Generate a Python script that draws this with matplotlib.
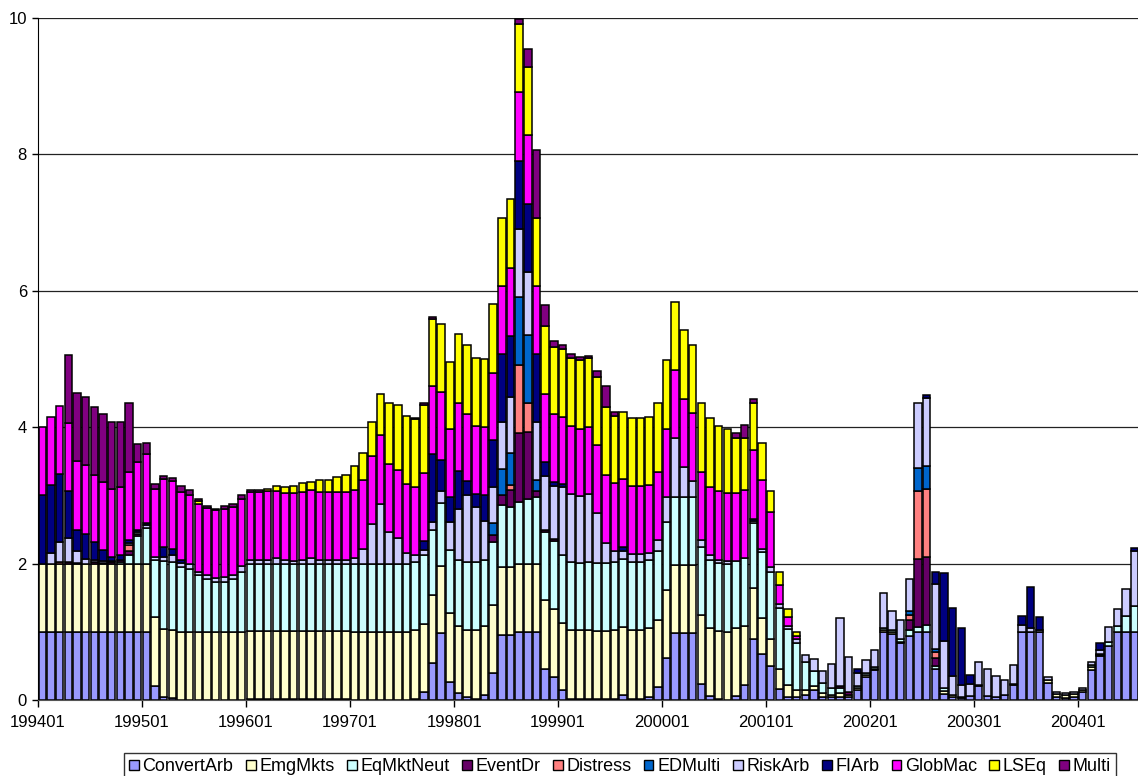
import numpy as np
import matplotlib
matplotlib.use("Agg")
import matplotlib.pyplot as plt
from matplotlib.patches import Patch

plt.rcParams["font.family"] = ["Liberation Sans", "DejaVu Sans"]

# monthly categories 199401 ... (axis runs a few months past the crop)
months = [f"{1994 + k // 12}{k % 12 + 1:02d}" for k in range(134)]

series_names = ["ConvertArb", "EmgMkts", "EqMktNeut", "EventDr", "Distress",
                "EDMulti", "RiskArb", "FIArb", "GlobMac", "LSEq", "Multi"]
series_colors = ["#9999FF", "#FFFFCC", "#CCFFFF", "#660066", "#FF8080",
                 "#0066CC", "#CCCCFF", "#000080", "#FF00FF", "#FFFF00", "#800080"]

# one row per year (12 months)
convert_arb = [
    1.0, 1.0, 1.0, 1.0, 1.0, 0.99, 1.0, 1.0, 1.0, 1.0, 1.0, 1.0,
    1.0, 0.21, 0.04, 0.03, 0, 0, 0, 0, 0, 0, 0, 0,
    0.01, 0.01, 0.01, 0.01, 0.01, 0.01, 0.01, 0.01, 0.01, 0.01, 0.01, 0.01,
    0, 0, 0, 0, 0, 0, 0, 0.02, 0.12, 0.54, 0.98, 0.27,
    0.1, 0.05, 0.02, 0.08, 0.39, 0.95, 0.95, 0.99, 0.99, 0.99, 0.46, 0.34,
    0.15, 0.02, 0.02, 0.02, 0.01, 0.01, 0.02, 0.07, 0.02, 0.02, 0.05, 0.19,
    0.61, 0.98, 0.98, 0.98, 0.24, 0.06, 0.01, 0, 0.06, 0.22, 0.89, 0.68,
    0.5, 0.16, 0.05, 0.04, 0.07, 0.15, 0.05, 0.04, 0.05, 0.05, 0.15, 0.34,
    0.44, 1.0, 0.97, 0.83, 0.94, 0.99, 0.99, 0.45, 0.09, 0.05, 0.03, 0.06,
    0.2, 0.06, 0.05, 0.07, 0.22, 0.99, 0.99, 0.99, 0.25, 0.05, 0.03, 0.05,
    0.11, 0.44, 0.64, 0.79, 0.99, 0.99, 0.99, 0.99,
]
emg_mkts = [
    1.0, 1.0, 1.0, 1.0, 1.0, 1.0, 1.0, 1.0, 1.0, 1.0, 1.0, 1.0,
    1.0, 1.0, 1.0, 1.0, 1.0, 1.0, 1.0, 1.0, 1.0, 1.0, 1.0, 1.0,
    1.0, 1.0, 1.0, 1.0, 1.0, 1.0, 1.0, 1.0, 1.0, 1.0, 1.0, 1.0,
    1.0, 1.0, 1.0, 1.0, 1.0, 1.0, 1.0, 1.0, 1.0, 1.0, 0.98, 1.0,
    0.99, 0.97, 1.0, 1.0, 1.0, 1.0, 1.0, 1.0, 1.0, 1.0, 1.0, 1.0,
    0.98, 1.0, 1.0, 1.0, 1.0, 1.0, 1.0, 1.0, 1.0, 1.0, 1.0, 0.99,
    1.0, 1.0, 1.0, 1.0, 1.0, 1.0, 1.0, 1.0, 0.99, 0.86, 0.75, 0.52,
    0.4, 0.3, 0.17, 0.11, 0.08, 0.06, 0.05, 0.04, 0.05, 0.03, 0.03, 0.03,
    0.02, 0.03, 0.02, 0.02, 0, 0, 0, 0, 0.04, 0.02, 0.02, 0,
    0.02, 0, 0, 0, 0.02, 0.01, 0.01, 0.01, 0.04, 0.04, 0.04, 0.04,
    0.04, 0.04, 0.02, 0, 0, 0, 0, 0,
]
eq_mkt_neut = [
    0, 0, 0, 0, 0.01, 0, 0, 0, 0, 0.03, 0.13, 0.4,
    0.52, 0.84, 1.0, 1.0, 0.95, 0.92, 0.83, 0.78, 0.73, 0.73, 0.78, 0.88,
    0.99, 0.99, 0.99, 0.99, 0.99, 0.99, 0.99, 0.99, 0.99, 0.99, 0.99, 0.99,
    1.0, 1.0, 1.0, 1.0, 1.0, 1.0, 1.0, 1.0, 1.0, 0.96, 0.93, 0.93,
    0.96, 1.0, 1.0, 0.97, 0.93, 0.91, 0.88, 0.92, 0.96, 0.99, 1.0, 0.99,
    1.0, 1.0, 0.99, 1.0, 1.0, 1.0, 1.0, 1.0, 1.0, 1.0, 1.0, 1.0,
    1.0, 1.0, 1.0, 1.0, 1.0, 1.0, 1.0, 1.0, 0.99, 1.0, 0.95, 0.97,
    0.98, 0.89, 0.82, 0.68, 0.41, 0.22, 0.15, 0.09, 0.07, 0, 0.02, 0.02,
    0.02, 0.02, 0.04, 0.05, 0.08, 0.08, 0.11, 0.05, 0.04, 0, 0, 0,
    0, 0, 0, 0, 0, 0, 0, 0, 0, 0, 0, 0,
    0, 0.03, 0.02, 0.06, 0.1, 0.24, 0.39, 0.4,
]
event_dr = [
    0, 0, 0, 0.02, 0, 0, 0.02, 0.01, 0.02, 0.02, 0.05, 0.03,
    0, 0, 0, 0, 0, 0, 0, 0, 0, 0, 0, 0,
    0, 0, 0, 0, 0, 0, 0, 0, 0, 0, 0, 0,
    0, 0, 0, 0, 0, 0, 0, 0, 0, 0, 0, 0,
    0, 0, 0, 0, 0.1, 0.14, 0.25, 1.0, 0.98, 0.08, 0.03, 0.03,
    0, 0, 0, 0, 0, 0, 0, 0, 0, 0, 0, 0,
    0, 0, 0, 0, 0, 0, 0, 0, 0, 0, 0, 0,
    0, 0, 0, 0, 0, 0, 0, 0, 0.03, 0.03, 0, 0,
    0, 0, 0, 0, 0.15, 1.0, 1.0, 0.12, 0, 0, 0, 0,
    0, 0, 0, 0, 0, 0, 0, 0, 0, 0, 0, 0,
    0, 0, 0, 0, 0, 0, 0, 0,
]
distress = [
    0, 0, 0.03, 0, 0, 0, 0, 0, 0, 0, 0.1, 0.01,
    0, 0, 0, 0, 0, 0, 0, 0, 0, 0, 0, 0,
    0, 0, 0, 0, 0, 0, 0, 0, 0, 0, 0, 0,
    0, 0, 0, 0, 0, 0, 0, 0, 0, 0, 0, 0,
    0, 0, 0, 0, 0, 0, 0.07, 1.0, 0.42, 0, 0, 0,
    0, 0, 0, 0, 0, 0, 0, 0, 0, 0, 0, 0,
    0, 0, 0, 0, 0, 0, 0, 0, 0, 0, 0, 0,
    0, 0, 0, 0, 0, 0, 0, 0, 0, 0, 0, 0,
    0, 0, 0, 0, 0.08, 1.0, 1.0, 0.08, 0, 0, 0, 0,
    0, 0, 0, 0, 0, 0, 0, 0, 0, 0, 0, 0,
    0, 0, 0, 0, 0, 0, 0, 0,
]
ed_multi = [
    0, 0, 0, 0, 0, 0, 0, 0, 0, 0, 0, 0,
    0, 0, 0, 0, 0, 0, 0, 0, 0, 0, 0, 0,
    0, 0, 0, 0, 0, 0, 0, 0, 0, 0, 0, 0,
    0, 0, 0, 0, 0, 0, 0, 0, 0, 0, 0, 0,
    0, 0, 0, 0, 0.17, 0.38, 0.47, 1.0, 1.0, 0.17, 0, 0,
    0, 0, 0, 0, 0, 0, 0, 0, 0, 0, 0, 0,
    0, 0, 0, 0, 0, 0, 0, 0, 0, 0, 0, 0,
    0, 0, 0, 0, 0, 0, 0, 0, 0, 0, 0, 0,
    0, 0, 0, 0, 0.05, 0.33, 0.33, 0.05, 0, 0, 0, 0,
    0, 0, 0, 0, 0, 0, 0, 0, 0, 0, 0, 0,
    0, 0, 0, 0, 0, 0, 0, 0,
]
risk_arb = [
    0, 0.15, 0.28, 0.36, 0.17, 0.08, 0.04, 0.03, 0.02, 0, 0.02, 0.02,
    0.04, 0.05, 0.06, 0.1, 0.06, 0.08, 0.05, 0.05, 0.06, 0.07, 0.05, 0.08,
    0.05, 0.05, 0.05, 0.08, 0.05, 0.04, 0.05, 0.08, 0.05, 0.05, 0.05, 0.05,
    0.08, 0.22, 0.58, 0.88, 0.46, 0.37, 0.16, 0.1, 0.08, 0.11, 0.17, 0.41,
    0.75, 0.98, 0.81, 0.57, 0.54, 0.7, 0.82, 1.0, 0.93, 0.84, 0.79, 0.78,
    1.0, 1.0, 0.98, 1.0, 0.73, 0.29, 0.17, 0.12, 0.12, 0.12, 0.1, 0.17,
    0.37, 0.86, 0.44, 0.23, 0.11, 0.07, 0.05, 0.04, 0, 0, 0.03, 0.05,
    0.07, 0.06, 0.04, 0.06, 0.1, 0.17, 0.17, 0.36, 1.0, 0.52, 0.19, 0.19,
    0.25, 0.52, 0.28, 0.28, 0.47, 0.96, 1.0, 0.95, 0.69, 0.28, 0.17, 0.18,
    0.33, 0.39, 0.3, 0.22, 0.28, 0.1, 0.05, 0.03, 0.04, 0.03, 0.03, 0.03,
    0.03, 0.04, 0.06, 0.22, 0.24, 0.4, 0.8, 0.93,
]
fi_arb = [
    1.0, 1.0, 1.0, 0.68, 0.32, 0.37, 0.26, 0.16, 0.06, 0.07, 0.05, 0.03,
    0.04, 0, 0.14, 0.08, 0.04, 0, 0, 0, 0, 0, 0, 0,
    0, 0, 0.01, 0, 0, 0, 0, 0, 0, 0, 0, 0,
    0, 0, 0, 0, 0, 0, 0, 0, 0.13, 1.0, 0.46, 0.36,
    0.56, 0.21, 0.19, 0.38, 0.68, 0.99, 0.9, 1.0, 1.0, 1.0, 0.21, 0.05,
    0.04, 0, 0, 0, 0, 0, 0, 0.05, 0, 0, 0, 0,
    0, 0, 0, 0, 0, 0, 0, 0, 0, 0, 0.04, 0,
    0, 0, 0, 0, 0, 0, 0, 0, 0, 0, 0.07, 0,
    0, 0, 0, 0, 0, 0, 0.04, 0.17, 1.0, 1.0, 0.83, 0.13,
    0, 0, 0, 0, 0, 0.13, 0.6, 0.18, 0, 0, 0, 0,
    0, 0, 0.1, 0, 0, 0, 0.05, 0,
]
glob_mac = [
    1.0, 1.0, 1.0, 1.0, 1.0, 1.0, 0.98, 0.99, 0.99, 1.0, 1.0, 1.0,
    1.0, 0.99, 1.0, 1.0, 1.0, 1.0, 1.0, 0.98, 0.99, 1.0, 1.0, 0.99,
    1.0, 1.0, 1.0, 0.99, 0.98, 0.99, 1.0, 1.0, 1.0, 1.0, 1.0, 1.0,
    1.0, 1.0, 1.0, 1.0, 1.0, 1.0, 1.0, 1.0, 1.0, 1.0, 0.99, 1.0,
    1.0, 0.99, 1.0, 1.0, 0.99, 1.0, 1.0, 1.0, 1.0, 1.0, 1.0, 1.0,
    0.98, 1.0, 0.99, 0.99, 1.0, 1.0, 0.99, 1.0, 1.0, 1.0, 1.0, 1.0,
    1.0, 1.0, 1.0, 1.0, 1.0, 1.0, 1.0, 1.0, 1.0, 1.0, 1.0, 1.0,
    0.81, 0.27, 0.14, 0.05, 0, 0, 0, 0, 0, 0, 0, 0,
    0, 0, 0, 0, 0, 0, 0, 0, 0, 0, 0, 0,
    0, 0, 0, 0, 0, 0, 0, 0, 0, 0, 0, 0,
    0, 0, 0, 0, 0, 0, 0, 0,
]
ls_eq = [
    0, 0, 0, 0, 0, 0, 0, 0, 0, 0, 0, 0,
    0, 0, 0, 0, 0, 0, 0.04, 0, 0, 0, 0, 0,
    0, 0, 0.03, 0.07, 0.09, 0.11, 0.13, 0.12, 0.18, 0.17, 0.22, 0.25,
    0.35, 0.4, 0.49, 0.6, 0.9, 0.95, 1.0, 1.0, 1.0, 0.98, 1.0, 0.98,
    1.0, 1.0, 1.0, 1.0, 1.0, 1.0, 1.0, 1.0, 1.0, 1.0, 1.0, 0.99,
    1.0, 1.0, 1.0, 1.0, 0.99, 1.0, 0.99, 0.99, 1.0, 1.0, 1.0, 1.0,
    1.0, 1.0, 1.0, 1.0, 1.0, 1.0, 0.96, 0.93, 0.8, 0.76, 0.69, 0.55,
    0.31, 0.2, 0.12, 0.05, 0, 0, 0, 0, 0, 0, 0, 0,
    0, 0, 0, 0, 0, 0, 0, 0, 0, 0, 0, 0,
    0, 0, 0, 0, 0, 0, 0, 0, 0, 0, 0, 0,
    0, 0, 0, 0, 0, 0, 0, 0,
]
multi = [
    0, 0, 0, 1.0, 1.0, 1.0, 1.0, 1.0, 0.98, 0.96, 1.0, 0.26,
    0.17, 0.08, 0.05, 0.05, 0.09, 0.08, 0.02, 0.03, 0.02, 0.04, 0.05, 0.05,
    0.03, 0.03, 0, 0, 0, 0, 0, 0, 0, 0, 0, 0,
    0, 0, 0, 0, 0, 0, 0, 0.02, 0.02, 0.02, 0, 0,
    0, 0, 0, 0, 0, 0, 0, 0.07, 0.26, 1.0, 0.3, 0.08,
    0.05, 0.05, 0.05, 0.03, 0.1, 0.3, 0.06, 0, 0, 0, 0, 0,
    0, 0, 0, 0, 0, 0, 0, 0, 0.07, 0.19, 0.07, 0,
    0, 0, 0, 0, 0, 0, 0, 0, 0, 0, 0, 0,
    0, 0, 0, 0, 0, 0, 0, 0, 0, 0, 0, 0,
    0, 0, 0, 0, 0, 0, 0, 0, 0, 0, 0, 0,
    0, 0, 0, 0, 0, 0, 0, 0,
]

series_values = [convert_arb, emg_mkts, eq_mkt_neut, event_dr, distress,
                 ed_multi, risk_arb, fi_arb, glob_mac, ls_eq, multi]

n_bars = len(convert_arb)
x = np.arange(n_bars)

fig = plt.figure(figsize=(11.38, 7.76), dpi=100)
# plot area runs past the right edge of the (cropped) picture
ax = fig.add_axes([38 / 1138, 76 / 776, 1164 / 1138, 682 / 776])

bottom = np.zeros(n_bars)
for name, vals, col in zip(series_names, series_values, series_colors):
    v = np.array(vals, dtype=float)
    m = v > 0
    ax.bar(x[m], v[m], bottom=bottom[m], width=0.86, color=col,
           edgecolor="black", linewidth=1.1, zorder=2)
    bottom += v

ax.set_xlim(-0.5, len(months) - 0.24)
ax.set_ylim(0, 10)
ax.set_yticks([0, 2, 4, 6, 8, 10])
ax.yaxis.grid(True, color="#222222", linewidth=0.9, zorder=0)
ax.set_axisbelow(True)

# labels only where they fall inside the picture (up to 200401)
label_idx = list(range(0, 121, 12))
ax.set_xticks([k - 0.5 for k in label_idx])
ax.set_xticklabels([months[k] for k in label_idx])
ax.tick_params(axis="x", direction="out", length=5, width=1, labelsize=12, pad=6)
ax.tick_params(axis="y", direction="out", length=4, width=1, labelsize=12, pad=4)

for s in ["top", "right"]:
    ax.spines[s].set_visible(False)
ax.spines["left"].set_color("black")
ax.spines["bottom"].set_color("#555555")

handles = [Patch(facecolor=c, edgecolor="black", linewidth=1) for c in series_colors]
leg = fig.legend(handles, series_names, loc="upper center",
                 bbox_to_anchor=(620 / 1138, 23 / 776),
                 ncol=len(series_names), fontsize=13, frameon=True, fancybox=False,
                 handlelength=0.55, handleheight=0.55, handletextpad=0.2,
                 columnspacing=0.68, borderpad=0.3, borderaxespad=0)
leg.get_frame().set_edgecolor("black")
leg.get_frame().set_linewidth(1)

fig.savefig("out.png", dpi=100)
